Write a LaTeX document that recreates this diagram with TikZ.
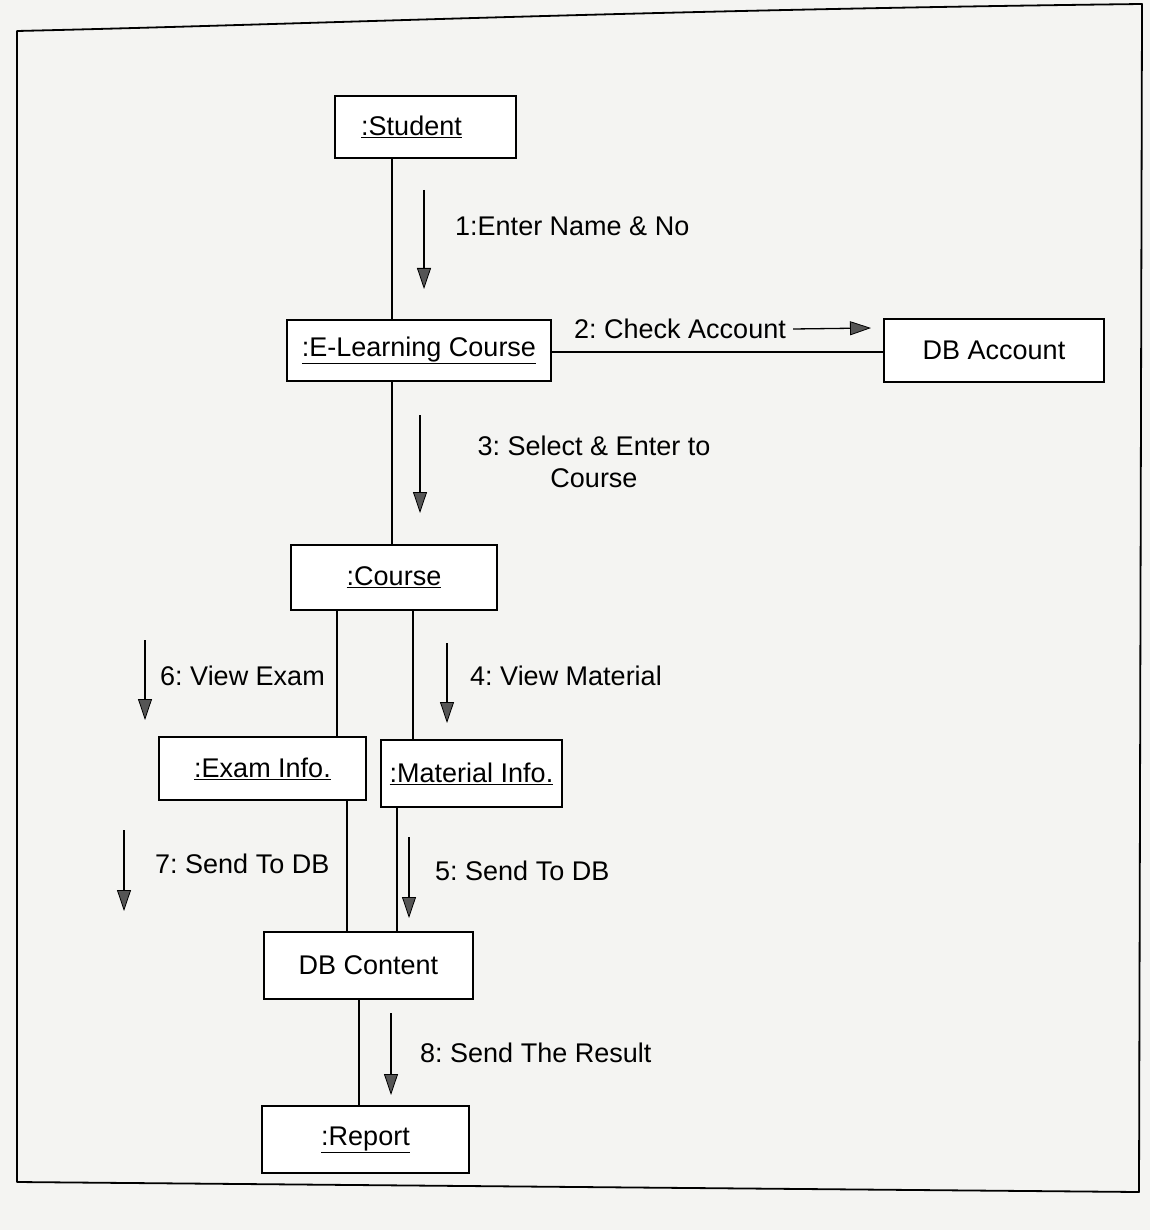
\documentclass[tikz,border=0pt]{standalone}
\usepackage{fontspec}
\setmainfont{Liberation Sans}
\usetikzlibrary{arrows.meta}
\definecolor{paper}{RGB}{244,244,242}
\definecolor{headfill}{RGB}{85,85,85}
\frenchspacing
\begin{document}
\begin{tikzpicture}[x=1pt,y=-1pt,
  font=\fontsize{27}{32}\selectfont,
  obj/.style={draw=black,line width=1.7pt,fill=white,inner sep=0pt,
              minimum width=#1,anchor=center},
  link/.style={draw=black,line width=1.4pt},
  msg/.style={draw=black,line width=1.3pt,
              -{Triangle[length=21pt,width=14pt,fill=headfill,line width=0.8pt]}},
  lbl/.style={inner sep=0pt,anchor=west}]
  % paper and page frame
  \fill[paper] (0,0) rectangle (1150,1230);
  \useasboundingbox (0,0) rectangle (1150,1230);
  \draw[line width=1.8pt,line join=round]
    (17,31) .. controls (320,24) and (640,10) .. (1142,4)
    -- (1139,1192) -- (17,1182) -- cycle;

  % objects
  \node[obj=181pt,minimum height=62pt] (student)  at (425.5,127)  {\hspace*{-28pt}\underline{:Student}};
  \node[obj=264pt,minimum height=61pt] (elc)      at (419,350.5)  {\underline{:E-Learning Course}};
  \node[obj=220pt,minimum height=63pt] (dbacc)    at (994,350.5)  {DB Account};
  \node[obj=206pt,minimum height=65pt] (course)   at (394,577.5)  {\underline{:Course}};
  \node[obj=207pt,minimum height=63pt] (exam)     at (262.5,768.5){\underline{:Exam Info.}};
  \node[obj=181pt,minimum height=67pt] (material) at (471.5,773.5){\underline{:Material Info.}};
  \node[obj=209pt,minimum height=67pt] (dbcont)   at (368.5,965.5){DB Content};
  \node[obj=207pt,minimum height=67pt] (report)   at (365.5,1139.5){\underline{:Report}};

  % x positions of the links
  \coordinate (xa) at (392,0);
  \coordinate (xb) at (337,0);
  \coordinate (xc) at (413,0);
  \coordinate (xd) at (347,0);
  \coordinate (xe) at (397,0);
  \coordinate (xf) at (359,0);
  \coordinate (ya) at (0,352);

  % links between objects
  \draw[link] (student.south -| xa) -- (elc.north -| xa);
  \draw[link] (elc.east |- ya) -- (dbacc.west |- ya);
  \draw[link] (elc.south -| xa) -- (course.north -| xa);
  \draw[link] (course.south -| xb) -- (exam.north -| xb);
  \draw[link] (course.south -| xc) -- (material.north -| xc);
  \draw[link] (exam.south -| xd) -- (dbcont.north -| xd);
  \draw[link] (material.south -| xe) -- (dbcont.north -| xe);
  \draw[link] (dbcont.south -| xf) -- (report.north -| xf);

  % messages
  \coordinate (m1a) at (424,190);  \coordinate (m1b) at (424,289);
  \draw[msg] (m1a) -- (m1b);
  \node[lbl] (l1) at (455,226) {1:Enter Name \& No};

  \node[lbl] (l2) at (574,329) {2: Check Account};
  \coordinate (m2b) at (871,328);
  \draw[msg] ([xshift=7pt]l2.east) -- (m2b);

  \coordinate (m3a) at (420,415);  \coordinate (m3b) at (420,513);
  \draw[msg] (m3a) -- (m3b);
  \node[align=center,inner sep=0pt] (l3) at (594,462) {3: Select \& Enter to\\Course};

  \coordinate (m4a) at (447,643);  \coordinate (m4b) at (447,723);
  \draw[msg] (m4a) -- (m4b);
  \node[lbl] (l4) at (470,676) {4: View Material};

  \coordinate (m6a) at (145,640);  \coordinate (m6b) at (145,720);
  \draw[msg] (m6a) -- (m6b);
  \node[lbl] (l6) at (160,676) {6: View Exam};

  \coordinate (m7a) at (124,830);  \coordinate (m7b) at (124,911);
  \draw[msg] (m7a) -- (m7b);
  \node[lbl] (l7) at (155,864) {7: Send To DB};

  \coordinate (m5a) at (409,837);  \coordinate (m5b) at (409,918);
  \draw[msg] (m5a) -- (m5b);
  \node[lbl] (l5) at (435,871) {5: Send To DB};

  \coordinate (m8a) at (391,1013); \coordinate (m8b) at (391,1095);
  \draw[msg] (m8a) -- (m8b);
  \node[lbl] (l8) at (420,1053) {8: Send The Result};
\end{tikzpicture}
\end{document}
